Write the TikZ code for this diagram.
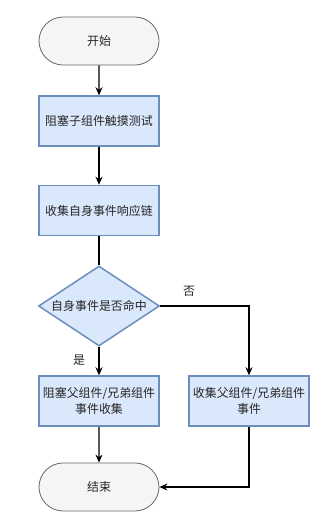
\documentclass[tikz,border=0pt]{standalone}
\usepackage{fontspec}
\setmainfont{Noto Sans CJK SC}
\usetikzlibrary{shapes.geometric,shapes.misc,arrows.meta}
\definecolor{bfill}{HTML}{DAE8FC}
\definecolor{bdraw}{HTML}{6C8EBF}
\definecolor{tfill}{HTML}{F5F5F5}
\definecolor{tdraw}{HTML}{666666}
\begin{document}
\begin{tikzpicture}[x=1bp,y=-1bp,
  every node/.style={font=\fontsize{12}{16}\selectfont, text=black!85, align=center, inner sep=0pt},
  terminal/.style={rounded rectangle, draw=tdraw, fill=tfill, line width=0.8bp, minimum width=120bp, minimum height=48bp},
  procbox/.style={rectangle, draw=bdraw, fill=bfill, line width=1.5bp, minimum width=120bp, minimum height=50bp},
  decision/.style={diamond, draw=bdraw, fill=bfill, line width=1.5bp, minimum width=121bp, minimum height=80bp, aspect=1.5},
  conn/.style={draw=black, line width=1.1bp, -{Stealth[length=8bp,width=7bp]}},
  plain/.style={draw=black, line width=1.1bp}]
\useasboundingbox (0,0) rectangle (320,524);
\node[terminal] (start) at (99,41) {开始};
\node[procbox] (b1) at (99,121) {阻塞子组件触摸测试};
\node[procbox] (b2) at (99,210.5) {收集自身事件响应链};
\node[decision] (d) at (99,306) {自身事件是否命中};
\node[procbox] (b3) at (99,401) {阻塞父组件/兄弟组件\\事件收集};
\node[procbox] (b4) at (249,401) {收集父组件/兄弟组件\\事件};
\node[terminal] (end) at (99,487) {结束};
\node (yes) at (79,360) {是};
\node (no) at (189,291) {否};
\coordinate (c1) at (249,306);
\coordinate (c2) at (249,487);
\draw[conn] (start) -- (b1);
\draw[conn] (b1) -- (b2);
\draw[plain] (b2) -- (d);
\draw[conn] (d) -- (b3);
\draw[conn] (d.east) -- (c1) -- (b4);
\draw[conn] (b3) -- (end);
\draw[conn] (b4) -- (c2) -- (end.east);
\end{tikzpicture}
\end{document}
